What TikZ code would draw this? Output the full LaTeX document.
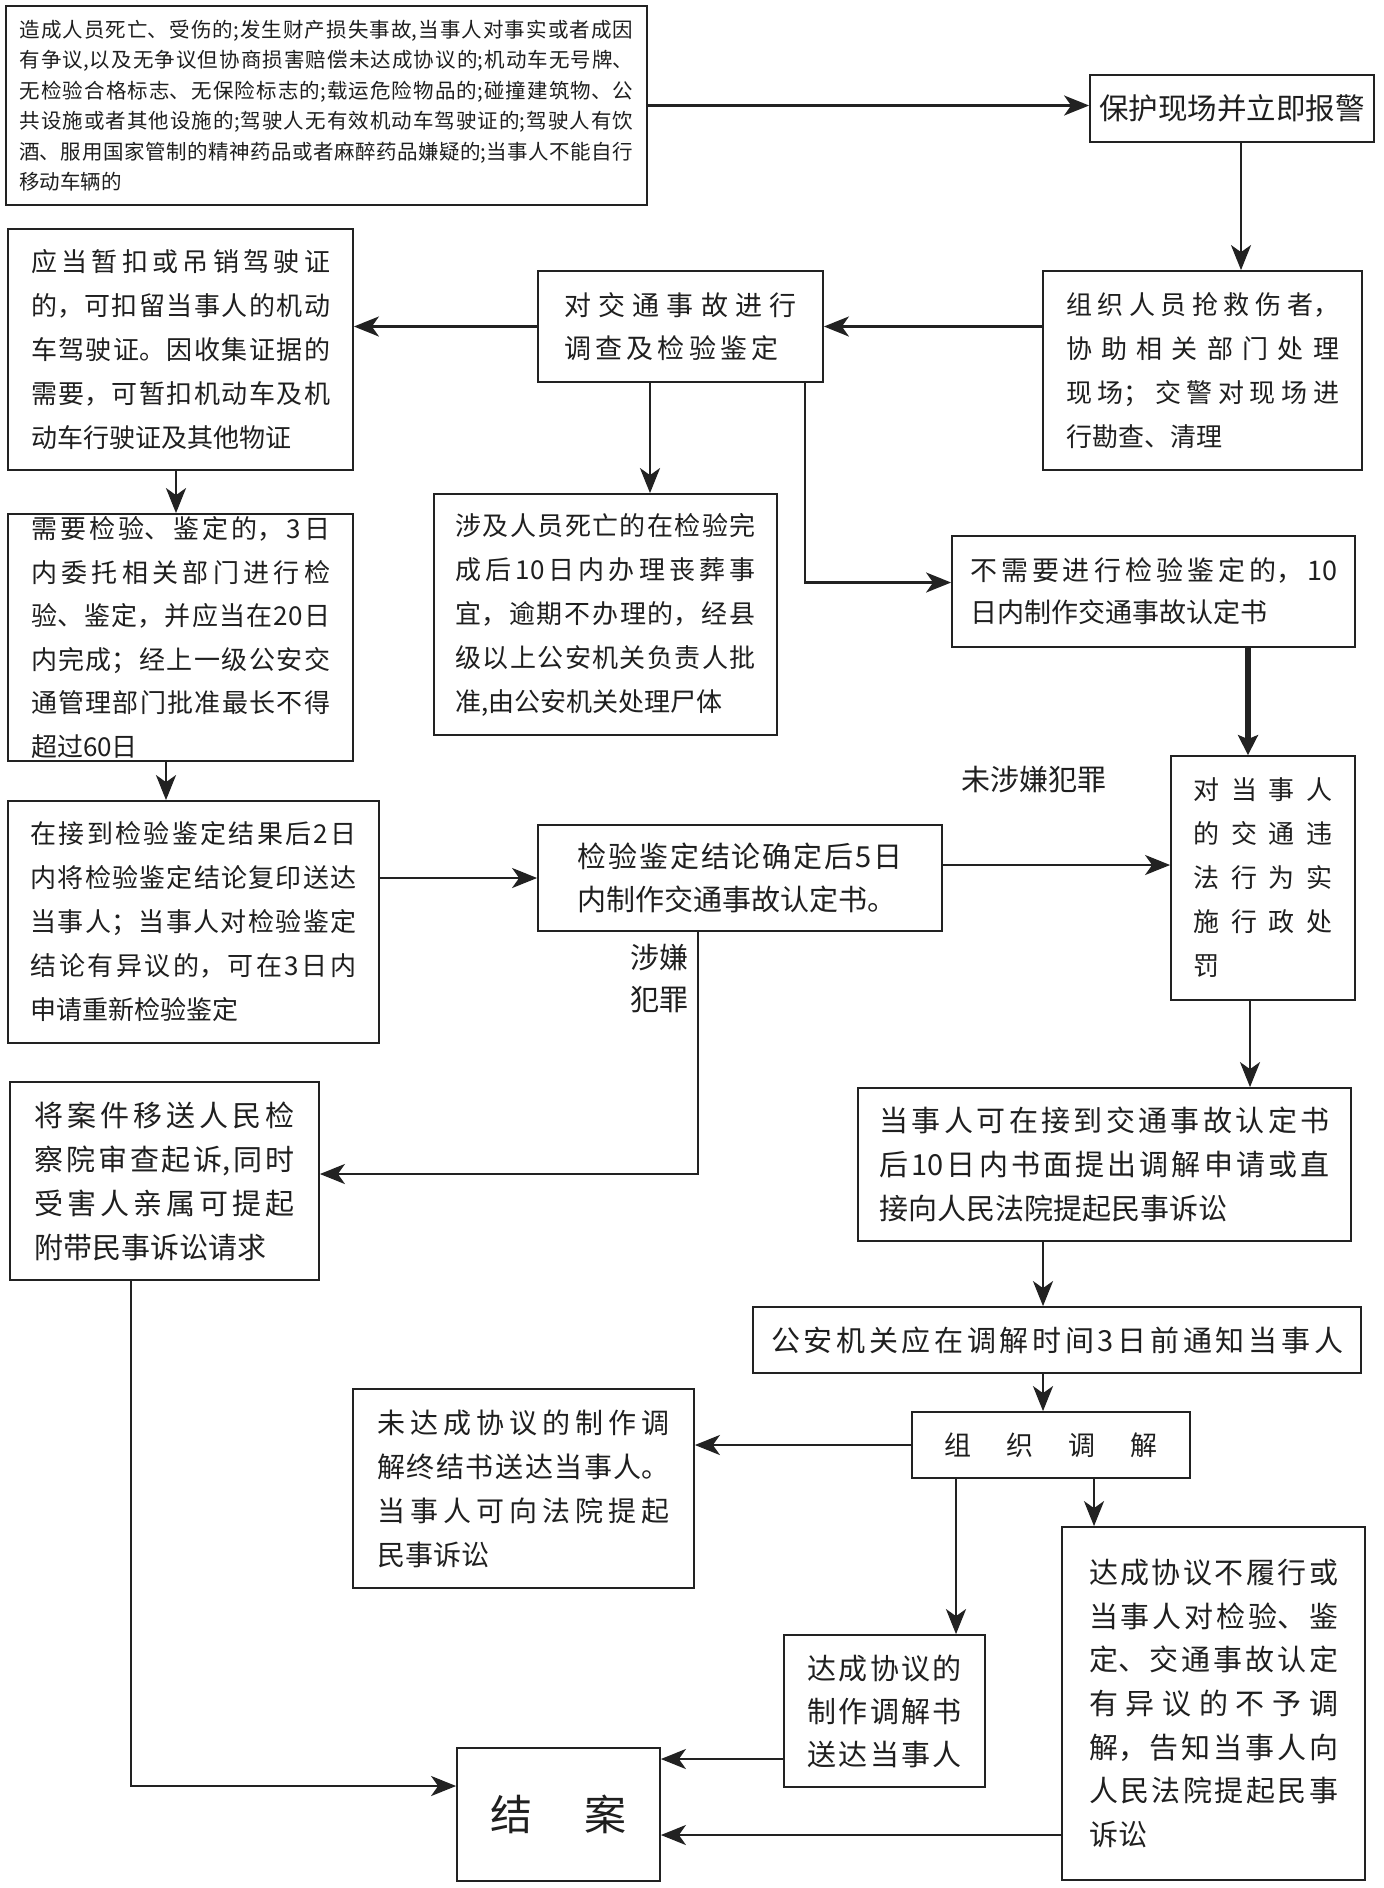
\documentclass[tikz,border=0pt]{standalone}
\usepackage{fontspec}
\setmainfont{Noto Sans CJK SC}
\usetikzlibrary{arrows.meta}
\XeTeXlinebreaklocale "zh"
\XeTeXlinebreakskip=0pt plus 15pt
\tolerance=10000
\hbadness=10000
\definecolor{ink}{RGB}{34,34,34}
\newcommand{\fs}[2]{\fontsize{#1pt}{#2pt}\selectfont}
\makeatletter
\def\spr@a#1{\ifx#1\@nil\else\hfil#1\expandafter\spr@a\fi}
\def\spr@b#1{#1\spr@a}
\newcommand{\sline}[2]{\makebox[#1][s]{\spr@b#2\@nil}}
\makeatother
\tikzset{
 blk/.style={draw=ink, line width=1.8pt, inner sep=0pt, align=justify, text=black!88},
 arr/.style={draw=ink, line width=2.5pt, -{Stealth[length=25pt,width=20pt,inset=7pt]}},
 thick arr/.style={draw=ink, line width=6.5pt, -{Stealth[length=20pt,width=20pt,inset=4pt]}},
 lbl/.style={inner sep=0pt, align=center, text=black!88},
}
\begin{document}
\begin{tikzpicture}[x=1pt,y=-1pt]
\fill[white] (0,0) rectangle (1384,1888);
\useasboundingbox (0,0) rectangle (1384,1888);

\node[blk, minimum width=641pt, minimum height=199pt, text width=614pt, font=\fs{20.5}{30.5}] (t0) at (326.5,105.5) {造成人员死亡、受伤的;发生财产损失事故,当事人对事实或者成因\linebreak
有争议,以及无争议但协商损害赔偿未达成协议的;机动车无号牌、\linebreak
无检验合格标志、无保险标志的;载运危险物品的;碰撞建筑物、公\linebreak
共设施或者其他设施的;驾驶人无有效机动车驾驶证的;驾驶人有饮\linebreak
酒、服用国家管制的精神药品或者麻醉药品嫌疑的;当事人不能自行\linebreak
移动车辆的};

\node[blk, minimum width=284pt, minimum height=67pt, align=center, font=\fs{29.5}{36}] (bh) at (1232,108.5) {保护现场并立即报警};

\node[blk, minimum width=319pt, minimum height=199pt, text width=273pt, font=\fs{26}{44}] (zz) at (1202.5,370.5) {组织人员抢救伤者，\linebreak
协助相关部门处理\linebreak
现场；交警对现场进\linebreak
行勘查、清理};

\node[blk, minimum width=285pt, minimum height=111pt, text width=232pt, font=\fs{27}{43}] (dj) at (680.5,326.5) {对交通事故进行\linebreak
\sline{214pt}{调查及检验鉴定}};

\node[blk, minimum width=345pt, minimum height=241pt, text width=299pt, font=\fs{26}{44}] (yd) at (180.5,349.5) {应当暂扣或吊销驾驶证\linebreak
的，可扣留当事人的机动\linebreak
车驾驶证。因收集证据的\linebreak
需要，可暂扣机动车及机\linebreak
动车行驶证及其他物证};

\node[blk, minimum width=345pt, minimum height=247pt, text width=299pt, font=\fs{26}{43.5}] (xy) at (180.5,637.5) {需要检验、鉴定的，3日\linebreak
内委托相关部门进行检\linebreak
验、鉴定，并应当在20日\linebreak
内完成；经上一级公安交\linebreak
通管理部门批准最长不得\linebreak
超过60日};

\node[blk, minimum width=343pt, minimum height=241pt, text width=300pt, font=\fs{26}{44}] (sj) at (605.5,614.5) {涉及人员死亡的在检验完\linebreak
成后10日内办理丧葬事\linebreak
宜，逾期不办理的，经县\linebreak
级以上公安机关负责人批\linebreak
准,由公安机关处理尸体};

\node[blk, minimum width=403pt, minimum height=111pt, text width=367pt, font=\fs{27}{42}] (bx) at (1153.5,591.5) {不需要进行检验鉴定的，10\linebreak
日内制作交通事故认定书};

\node[blk, minimum width=371pt, minimum height=242pt, text width=326pt, font=\fs{26}{44}] (zj) at (193.5,922) {在接到检验鉴定结果后2日\linebreak
内将检验鉴定结论复印送达\linebreak
当事人；当事人对检验鉴定\linebreak
结论有异议的，可在3日内\linebreak
申请重新检验鉴定};

\node[blk, minimum width=404pt, minimum height=106pt, text width=325pt, font=\fs{29}{43}] (jy) at (740,878) {检验鉴定结论确定后5日\linebreak
内制作交通事故认定书。};

\node[blk, minimum width=184pt, minimum height=244pt, text width=139pt, font=\fs{26}{44}] (dd) at (1263,878) {对当事人\linebreak
的交通违\linebreak
法行为实\linebreak
施行政处\linebreak
罚};

\node[blk, minimum width=493pt, minimum height=153pt, text width=450pt, font=\fs{29}{44}] (dsr) at (1104.5,1164.5) {当事人可在接到交通事故认定书\linebreak
后10日内书面提出调解申请或直\linebreak
接向人民法院提起民事诉讼};

\node[blk, minimum width=608pt, minimum height=66pt, align=center, font=\fs{29}{36}] (ga) at (1057,1340) {\sline{572pt}{公安机关应在调解时间3日前通知当事人}};

\node[blk, minimum width=278pt, minimum height=66pt, align=center, font=\fs{27}{34}] (zt) at (1051,1445) {组\hspace{35pt}织\hspace{35pt}调\hspace{35pt}解};

\node[blk, minimum width=341pt, minimum height=199pt, text width=293pt, font=\fs{28}{44}] (wd) at (523.5,1488.5) {未达成协议的制作调\linebreak
解终结书送达当事人。\linebreak
当事人可向法院提起\linebreak
民事诉讼};

\node[blk, minimum width=201pt, minimum height=152pt, align=left, font=\fs{29}{43}] (dc) at (884.5,1711) {\sline{154pt}{达成协议的}\\
\sline{154pt}{制作调解书}\\
\sline{154pt}{送达当事人}};

\node[blk, minimum width=303pt, minimum height=353pt, text width=249pt, font=\fs{29}{43.7}] (db) at (1213.5,1703.5) {达成协议不履行或\linebreak
当事人对检验、鉴\linebreak
定、交通事故认定\linebreak
有异议的不予调\linebreak
解，告知当事人向\linebreak
人民法院提起民事\linebreak
诉讼};

\node[blk, minimum width=203pt, minimum height=133pt, align=center, font=\fs{42}{50}] (ja) at (558.5,1814.5) {结\hspace{52pt}案};

\node[blk, minimum width=309pt, minimum height=198pt, text width=260pt, font=\fs{29}{44}] (js) at (164.5,1181) {将案件移送人民检\linebreak
察院审查起诉,同时\linebreak
受害人亲属可提起\linebreak
附带民事诉讼请求};

\node[lbl, font=\fs{29}{36}] (l1) at (1034,780) {未涉嫌犯罪};
\node[lbl, font=\fs{29}{42}] (l2) at (659,978) {涉嫌\\犯罪};

\draw[arr] (t0.east) -- (t0.east -| bh.west);
\draw[arr] (bh.south -| 1241,0) -- (zz.north -| 1241,0);
\draw[arr] (zz.west |- dj.east) -- (dj.east);
\draw[arr] (dj.west) -- (dj.west -| yd.east);
\draw[arr] (yd.south -| 176,0) -- (xy.north -| 176,0);
\draw[arr] (xy.south -| 166,0) -- (zj.north -| 166,0);
\draw[arr] (zj.east |- jy.west) -- (jy.west);
\draw[arr] (jy.east |- 0,865) -- (dd.west |- 0,865);
\draw[arr] (jy.south -| 698,0) |- ([yshift=7pt]js.east);
\draw[arr] (dj.south -| 650,0) -- (sj.north -| 650,0);
\draw[arr] (dj.south -| 805,0) |- ([yshift=9pt]bx.west);
\draw[thick arr] (bx.south -| 1248,0) -- (dd.north -| 1248,0);
\draw[arr] (dd.south -| 1250,0) -- (dsr.north -| 1250,0);
\draw[arr] (dsr.south -| 1043,0) -- (ga.north -| 1043,0);
\draw[arr] (ga.south -| 1043,0) -- (zt.north -| 1043,0);
\draw[arr] (zt.west) -- (zt.west -| wd.east);
\draw[arr] (zt.south -| 956,0) -- (dc.north -| 956,0);
\draw[arr] (zt.south -| 1094,0) -- (db.north -| 1094,0);
\draw[arr] (dc.west |- 0,1759) -- (ja.east |- 0,1759);
\draw[arr] (db.west |- 0,1835) -- (ja.east |- 0,1835);
\draw[arr] (js.south -| 131,0) |- (ja.west |- 0,1786);
\end{tikzpicture}
\end{document}
